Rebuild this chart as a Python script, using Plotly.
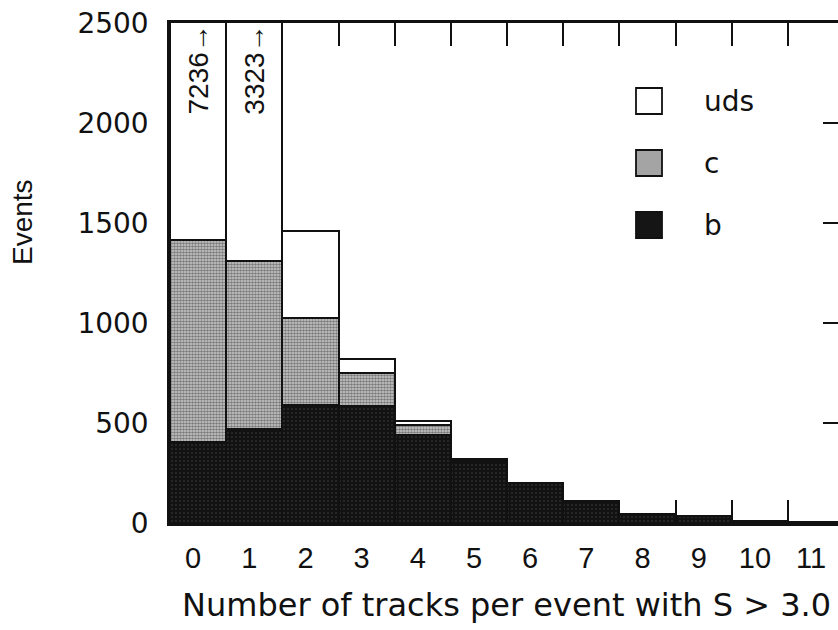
import plotly.graph_objects as go

# Number of tracks per event with significance S > 3.0, split by flavour
bins = list(range(12))
tick_labels = [str(n) for n in bins]
b_events = [405, 472, 590, 585, 440, 305, 198, 108, 46, 36, 10, 4]
c_events = [1010, 839, 435, 167, 50, 10, 0, 0, 0, 0, 0, 0]
uds_events = [5821, 2012, 437, 70, 18, 3, 0, 0, 0, 0, 0, 0]
y_ticks = [0, 500, 1000, 1500, 2000, 2500]

Y_MAX = 2500
X_RANGE = [-0.5, 11.39]
FONT = "Liberation Sans, Arial, Helvetica, sans-serif"
WIDE = "DejaVu Sans, Verdana, sans-serif"
INK = "#111111"

totals = [b + c + u for b, c, u in zip(b_events, c_events, uds_events)]
bin_edges = [n - 0.5 for n in bins] + [bins[-1] + 0.5]

fig = go.Figure()

outline = dict(color=INK, width=2.2)
fig.add_trace(go.Bar(
    x=bins, y=b_events, name="b", width=1.0,
    marker=dict(color="#141414", line=outline,
                pattern=dict(shape=".", fgcolor="#777777", bgcolor="#121212",
                             size=4, solidity=0.12)),
))
fig.add_trace(go.Bar(
    x=bins, y=c_events, name="c", width=1.0,
    marker=dict(color="#a0a0a0", line=outline,
                pattern=dict(shape=".", fgcolor="#262626", bgcolor="#cfcfcf",
                             size=3, solidity=0.6)),
))
fig.add_trace(go.Bar(
    x=bins, y=uds_events, name="uds", width=1.0,
    marker=dict(color="white", line=outline),
))

# Off-scale totals written inside the first two bins
annotations = []
for n in bins:
    if totals[n] > Y_MAX:
        annotations.append(dict(
            x=n, y=2268, xref="x", yref="y", text=f"{totals[n]}\u2192",
            textangle=-90, showarrow=False, xanchor="center", yanchor="middle",
            font=dict(family=FONT, size=28, color=INK),
        ))

# Legend drawn as swatches plus labels
legend_items = [("uds", "white"), ("c", "#a4a4a4"), ("b", "#151515")]
shapes = []
sw_x0, sw_x1 = 636, 662
row_y = [101, 163, 225]
W, H = 838, 630
for (label, fill), yc in zip(legend_items, row_y):
    shapes.append(dict(
        type="rect", xref="paper", yref="paper",
        x0=(sw_x0 - 170) / (W - 170), x1=(sw_x1 - 170) / (W - 170),
        y0=(523 - (yc + 13)) / 500, y1=(523 - (yc - 13)) / 500,
        fillcolor=fill, line=dict(color=INK, width=1.8), layer="above",
    ))
    annotations.append(dict(
        x=(702 - 170) / (W - 170), y=(523 - yc) / 500, xref="paper", yref="paper",
        text=label, showarrow=False, xanchor="left", yanchor="middle",
        font=dict(family=WIDE, size=28, color=INK),
    ))

annotations.append(dict(
    x=-148 / (W - 170), y=(523 - 222) / 500, xref="paper", yref="paper",
    text="Events", textangle=-90, showarrow=False,
    xanchor="center", yanchor="middle",
    font=dict(family=FONT, size=28, color=INK),
))
annotations.append(dict(
    x=(506 - 170) / (W - 170), y=-(605 - 523) / 500, xref="paper", yref="paper",
    text="Number of tracks per event with S > 3.0", showarrow=False,
    xanchor="center", yanchor="middle",
    font=dict(family=WIDE, size=32, color=INK),
))

fig.update_layout(
    width=W, height=H,
    margin=dict(l=170, r=0, t=23, b=107, pad=0),
    paper_bgcolor="white", plot_bgcolor="white",
    barmode="stack", bargap=0, showlegend=False,
    font=dict(family=FONT, color=INK),
    xaxis=dict(
        range=X_RANGE, tickmode="array", tickvals=bins, ticktext=tick_labels,
        ticks="", showgrid=False, zeroline=False, showline=True,
        linecolor=INK, linewidth=2.5, layer="below traces",
        tickfont=dict(family=FONT, size=29, color=INK),
        ticklabelstandoff=7, ticklabelshift=-5,
    ),
    xaxis2=dict(
        overlaying="x", side="top", anchor="y", range=X_RANGE,
        tickmode="array", tickvals=bin_edges, ticks="inside", ticklen=23,
        tickwidth=2.2, tickcolor=INK, showticklabels=False, showgrid=False,
        zeroline=False, showline=True, linecolor=INK, linewidth=2.5,
        mirror="ticks", layer="below traces",
    ),
    yaxis=dict(
        range=[0, Y_MAX], tickmode="array", tickvals=y_ticks,
        ticks="inside", ticklen=22, tickwidth=2.2, tickcolor=INK,
        showgrid=False, zeroline=False, showline=True, linecolor=INK,
        linewidth=2.5, layer="below traces",
        tickfont=dict(family=WIDE, size=28, color=INK),
        ticklabelstandoff=13,
    ),
    yaxis2=dict(
        overlaying="y", side="right", anchor="x", range=[0, Y_MAX],
        tickmode="array", tickvals=y_ticks, ticks="inside", ticklen=15,
        tickwidth=2.2, tickcolor=INK, showticklabels=False, showgrid=False,
        zeroline=False, showline=False,
    ),
    shapes=shapes,
    annotations=annotations,
)

# Empty helper traces so the top and right tick axes are laid out
fig.add_trace(go.Scatter(x=[], y=[], xaxis="x2", yaxis="y", showlegend=False))
fig.add_trace(go.Scatter(x=[], y=[], xaxis="x", yaxis="y2", showlegend=False))

fig.write_html("out.html")
